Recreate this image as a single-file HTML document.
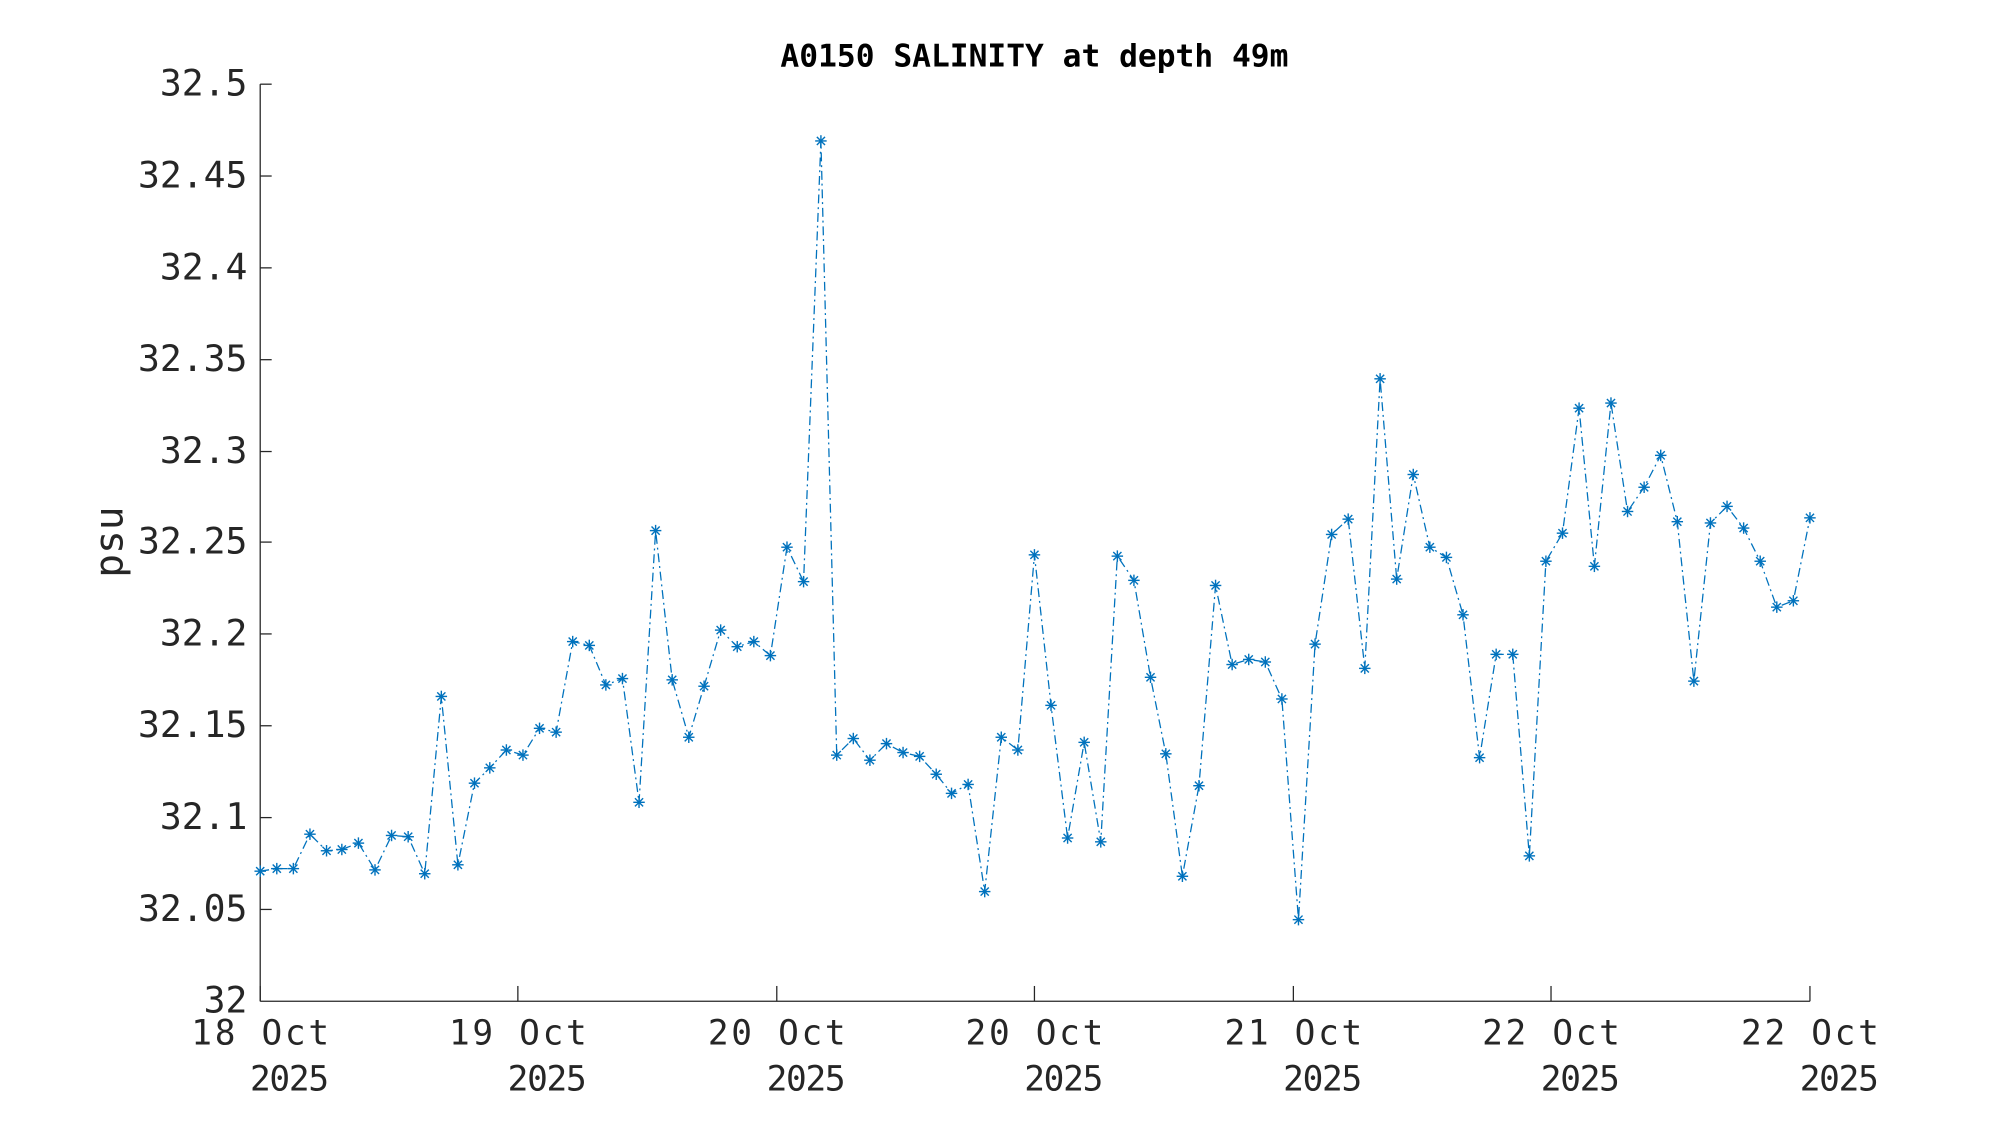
<!DOCTYPE html>
<html><head><meta charset="utf-8"><style>html,body{margin:0;padding:0;background:#fff}svg{display:block}</style></head>
<body>
<svg width="2000" height="1125" viewBox="0 0 1568 882" xmlns="http://www.w3.org/2000/svg">
<defs>
<marker id="m" markerUnits="userSpaceOnUse" markerWidth="12" markerHeight="12" refX="6" refY="6" viewBox="0 0 12 12" overflow="visible">
<g stroke="#0072BD" stroke-width="1.1" fill="none" stroke-dasharray="none">
<line x1="6" y1="1.5" x2="6" y2="10.5"/><line x1="1.5" y1="6" x2="10.5" y2="6"/>
<line x1="2.8" y1="2.8" x2="9.2" y2="9.2"/><line x1="2.8" y1="9.2" x2="9.2" y2="2.8"/>
</g></marker>
</defs>
<rect width="1568" height="882" fill="#fff"/>
<text x="811" y="52" text-anchor="middle" font-family="DejaVu Sans Mono, Liberation Mono, monospace" font-weight="bold" font-size="24.5" fill="#000">A0150 SALINITY at depth 49m</text>
<g stroke="#262626" stroke-width="1" fill="none">
<line x1="204" y1="66" x2="204" y2="785"/>
<line x1="204" y1="785" x2="1419" y2="785"/>
<line x1="204" y1="66" x2="213" y2="66"/><line x1="204" y1="138" x2="213" y2="138"/><line x1="204" y1="210" x2="213" y2="210"/><line x1="204" y1="282" x2="213" y2="282"/><line x1="204" y1="354" x2="213" y2="354"/><line x1="204" y1="425" x2="213" y2="425"/><line x1="204" y1="497" x2="213" y2="497"/><line x1="204" y1="569" x2="213" y2="569"/><line x1="204" y1="641" x2="213" y2="641"/><line x1="204" y1="713" x2="213" y2="713"/>
<line x1="204" y1="785" x2="204" y2="773"/><line x1="406" y1="785" x2="406" y2="773"/><line x1="609" y1="785" x2="609" y2="773"/><line x1="811" y1="785" x2="811" y2="773"/><line x1="1014" y1="785" x2="1014" y2="773"/><line x1="1216" y1="785" x2="1216" y2="773"/><line x1="1419" y1="785" x2="1419" y2="773"/>
</g>
<g font-family="DejaVu Sans Mono, Liberation Mono, monospace" font-size="28.5" fill="#262626" text-anchor="end">
<text x="194" y="75">32.5</text><text x="194" y="147">32.45</text><text x="194" y="219">32.4</text><text x="194" y="291">32.35</text><text x="194" y="363">32.3</text><text x="194" y="434">32.25</text><text x="194" y="506">32.2</text><text x="194" y="578">32.15</text><text x="194" y="650">32.1</text><text x="194" y="722">32.05</text><text x="194" y="794">32</text>
</g>
<g font-family="DejaVu Sans Mono, Liberation Mono, monospace" font-size="27" fill="#262626">
<text x="150" y="819" textLength="108">18 Oct</text><text x="196" y="855" textLength="62">2025</text>
<text x="352" y="819" textLength="108">19 Oct</text><text x="398" y="855" textLength="62">2025</text>
<text x="555" y="819" textLength="108">20 Oct</text><text x="601" y="855" textLength="62">2025</text>
<text x="757" y="819" textLength="108">20 Oct</text><text x="803" y="855" textLength="62">2025</text>
<text x="960" y="819" textLength="108">21 Oct</text><text x="1006" y="855" textLength="62">2025</text>
<text x="1162" y="819" textLength="108">22 Oct</text><text x="1208" y="855" textLength="62">2025</text>
<text x="1365" y="819" textLength="108">22 Oct</text><text x="1411" y="855" textLength="62">2025</text>
</g>
<text transform="translate(96,425) rotate(-90)" text-anchor="middle" font-family="DejaVu Sans Mono, Liberation Mono, monospace" font-size="31" fill="#262626">psu</text>
<polyline fill="none" stroke="#0072BD" stroke-width="1" stroke-dasharray="7,3,1.5,3" marker-start="url(#m)" marker-mid="url(#m)" marker-end="url(#m)"
points="204,683 217,681 230,681 243,654 256,667 268,666 281,661 294,682 307,655 320,656 333,685 346,546 359,678 372,614 384,602 397,588 410,592 423,571 436,574 449,503 462,506 475,537 488,532 501,629 514,416 527,533 540,578 552,538 565,494 578,507 591,503 604,514 617,429 630,456 643.6,110.5 656,592 669,579 682,596 695,583 708,590 721,593 734,607 746,622 759,615 772,699 785,578 798,588 811,435 824,553 837,657 850,582 863,660 876,436 889,455 902,531 914,591 927,687 940,616 953,459 966,521 979,517 992,519 1005,548 1018,721 1031,505 1044,419 1057,407 1070,524 1082,297 1095,454 1108,372 1121,429 1134,437 1147,482 1160,594 1173,513 1186,513 1199,671 1212,440 1225,418 1238,320 1250,444 1263,316 1276,401 1289,382 1302,357 1315,409 1328,534 1341,410 1354,397 1367,414 1380,440 1393,476 1406,471 1419,406"/>
</svg>
</body></html>
